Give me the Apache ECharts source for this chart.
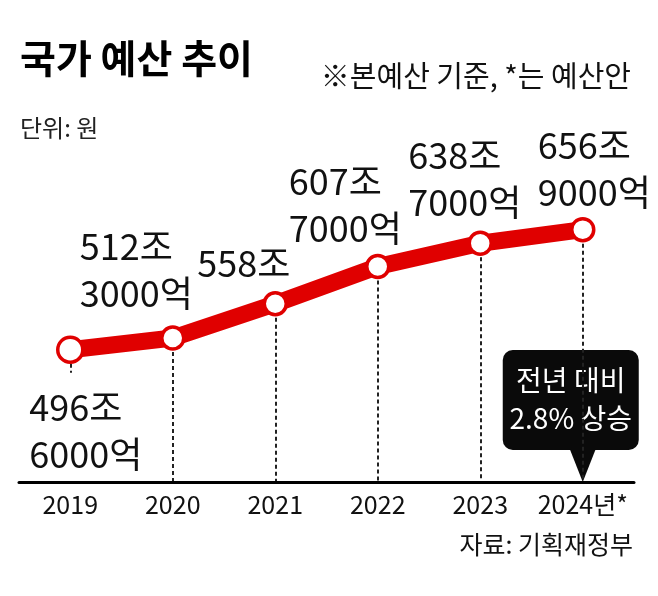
<!DOCTYPE html>
<html>
<head>
<meta charset="utf-8">
<script src="https://cdn.jsdelivr.net/npm/echarts@6/dist/echarts.min.js"></script>
<style>
  html, body { margin: 0; padding: 0; background: #fff; }
  #chart { width: 658px; height: 596px; }
</style>
</head>
<body>
<div id="chart"></div>
<script>
  // 데이터 (단위: 조원)
  const years = ['2019', '2020', '2021', '2022', '2023', '2024년*']
  const budget = [496.6, 512.3, 558, 607.7, 638.7, 656.9]
  // 라벨 위치 조정 (px)
  const labelOffsets = [[-43, 81], [-93, -68], [-78, -40], [-89, -62], [-72, -64], [-45, -61]]

  const FONT = "'Noto Sans CJK KR', sans-serif"
  const yMin = 320, yMax = 830

  function fmt(v) {
    const jo = Math.floor(v)
    const eok = Math.round((v - jo) * 10000)
    return eok ? jo + '조\n' + eok + '억' : jo + '조'
  }

  const chart = echarts.init(document.getElementById('chart'))

  const lineData = budget.map((v, i) => ({
    value: v,
    symbolSize: i === 0 ? 25 : 22,
    label: {
      offset: labelOffsets[i],
      // 2019 라벨은 흰 배경으로 점선을 가림
      backgroundColor: i === 0 ? '#fff' : 'transparent',
      padding: i === 0 ? [22, 2, 0, 2] : 0,
    },
  }))

  // 점선 (점 -> x축)
  const dropLines = budget.map((v, i) => [
    { coord: [i, v] },
    { coord: [i, yMin] },
  ])

  chart.setOption({
    animation: false,
    textStyle: { fontFamily: FONT },
    title: [
      {
        text: '국가 예산 추이',
        left: 15, top: 34,
        textStyle: { fontFamily: FONT, fontSize: 39, fontWeight: 'bold', color: '#000' },
      },
      {
        text: '※본예산 기준, *는 예산안',
        right: 22, top: 56,
        textStyle: { fontFamily: FONT, fontSize: 29, fontWeight: 'normal', color: '#111' },
      },
      {
        text: '단위: 원',
        left: 15, top: 111,
        textStyle: { fontFamily: FONT, fontSize: 24, fontWeight: 'normal', color: '#222' },
      },
      {
        text: '자료: 기획재정부',
        right: 20, top: 527,
        textStyle: { fontFamily: FONT, fontSize: 25, fontWeight: 'normal', color: '#111' },
      },
    ],
    grid: { left: 19, right: 24, top: 100, bottom: 114 },
    xAxis: {
      type: 'category',
      z: 20,
      data: years,
      boundaryGap: true,
      axisLine: { lineStyle: { color: '#000', width: 3 } },
      axisTick: { show: false },
      axisLabel: { interval: 0, fontFamily: FONT, fontSize: 25, color: '#111', margin: 10 },
    },
    yAxis: {
      type: 'value',
      min: yMin, max: yMax,
      show: false,
    },
    series: [
      {
        type: 'line',
        z: 1,
        data: [],
        markLine: {
          z: 1,
          silent: true,
          symbol: 'none',
          label: { show: false },
          lineStyle: { color: '#222', width: 2, type: [4, 3] },
          data: dropLines,
        },
      },
      {
        type: 'line',
        z: 3,
        data: lineData,
        symbol: 'circle',
        itemStyle: { color: '#fff', borderColor: '#e00000', borderWidth: 3.5 },
        lineStyle: { color: '#e00000', width: 17 },
        label: {
          show: true,
          position: 'inside',
          align: 'left',
          verticalAlign: 'middle',
          fontFamily: FONT,
          fontSize: 36,
          lineHeight: 47,
          color: '#111',
          formatter: (p) => fmt(p.value),
        },
      },
    ],
  })

  // 말풍선 (2024)
  const tip = chart.convertToPixel({ seriesIndex: 1 }, [5, yMin])
  const bx = tip[0] - 80, by = 350, bw = 136, bh = 100
  chart.setOption({
    graphic: [
      {
        type: 'group',
        z: 10,
        children: [
          {
            type: 'rect',
            shape: { x: bx, y: by, width: bw, height: bh, r: 10 },
            style: { fill: '#0a0a0a' },
          },
          {
            type: 'polygon',
            shape: { points: [[tip[0] - 13, by + bh - 1], [tip[0] + 13, by + bh - 1], [tip[0], tip[1]]] },
            style: { fill: '#0a0a0a' },
          },
          {
            type: 'text',
            x: bx + bw / 2, y: by + 11,
            style: {
              text: '전년 대비\n2.8% 상승',
              fill: '#fff',
              font: '28px ' + FONT,
              lineHeight: 38,
              align: 'center',
            },
          },
        ],
      },
    ],
  })
</script>
</body>
</html>
